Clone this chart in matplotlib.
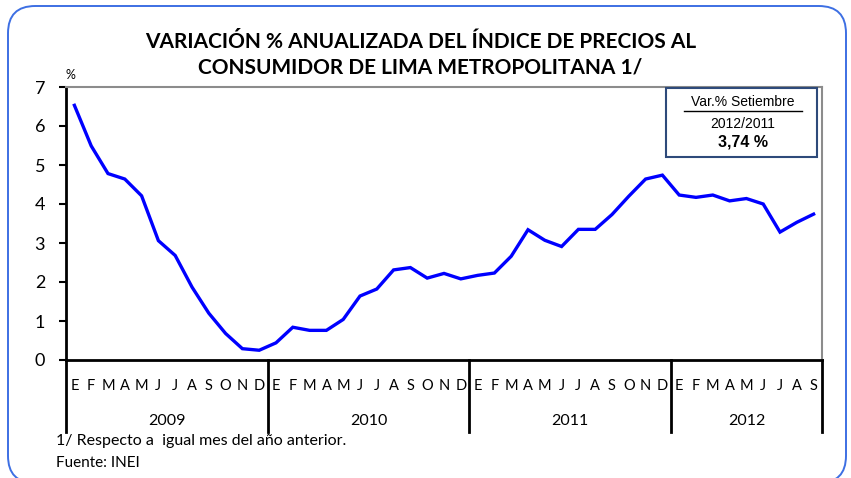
import numpy as np
import matplotlib
matplotlib.use("Agg")
import matplotlib.pyplot as plt
from matplotlib.patches import FancyBboxPatch, Rectangle
from matplotlib.lines import Line2D

# Datos: variacion % anualizada IPC Lima Metropolitana (ene 2009 - set 2012)
anios = ["2009", "2010", "2011", "2012"]
meses = ["E", "F", "M", "A", "M", "J", "J", "A", "S", "O", "N", "D"]
v2009 = [6.53, 5.49, 4.78, 4.64, 4.21, 3.06, 2.68, 1.87, 1.20, 0.68, 0.29, 0.25]
v2010 = [0.44, 0.84, 0.76, 0.76, 1.04, 1.64, 1.82, 2.31, 2.37, 2.10, 2.22, 2.08]
v2011 = [2.17, 2.23, 2.66, 3.34, 3.07, 2.91, 3.35, 3.35, 3.73, 4.20, 4.64, 4.74]
v2012 = [4.23, 4.17, 4.23, 4.08, 4.14, 4.00, 3.28, 3.53, 3.74]
yticks = [0, 1, 2, 3, 4, 5, 6, 7]

valores = v2009 + v2010 + v2011 + v2012
n = len(valores)
etiquetas = (meses * 4)[:n]
x = np.arange(n) + 0.5

fig = plt.figure(figsize=(8.51, 4.78), dpi=100)
plt.rcParams['font.family'] = ['Lato', 'DejaVu Sans']

# marco redondeado azul (el borde inferior queda fuera de la imagen)
marco = FancyBboxPatch((8 / 851, -5 / 478), 838 / 851, 477 / 478,
                       boxstyle="round,pad=0,rounding_size=0.032",
                       transform=fig.transFigure, fill=False,
                       edgecolor="#3d6fe3", linewidth=1.4, mutation_aspect=851 / 478)
fig.patches.append(marco)

ax = fig.add_axes([66 / 851, 1 - 360 / 478, (822 - 66) / 851, (360 - 87) / 478])
ax.plot(x, valores, color="#0000ff", linewidth=2.4, solid_joinstyle="miter")

ax.set_xlim(0, n)
ax.set_ylim(0, 7)
ax.set_yticks(yticks)
ax.tick_params(axis="y", labelsize=13, length=5, width=1.5, direction="out", pad=10)
ax.set_xticks(x)
ax.set_xticklabels(etiquetas, fontsize=10.5)
ax.tick_params(axis="x", length=0, pad=14)

for lado in ["left", "bottom"]:
    ax.spines[lado].set_linewidth(2)
    ax.spines[lado].set_color("black")
for lado in ["top", "right"]:
    ax.spines[lado].set_linewidth(1.5)
    ax.spines[lado].set_color("#8c8c8c")

# separadores de anios y etiquetas de anio
tr = ax.get_xaxis_transform()
for i in range(len(anios) + 1):
    xs = min(i * 12, n)
    ax.plot([xs, xs], [0, -0.265], color="black", linewidth=2, transform=tr, clip_on=False)
for i, a in enumerate(anios):
    fin = min((i + 1) * 12, n)
    ax.text((i * 12 + fin) / 2, -0.225, a, transform=tr, ha="center", va="center", fontsize=11.5)

# titulo
fig.text(0.494, 1 - 42 / 478, "VARIACIÓN % ANUALIZADA DEL ÍNDICE DE PRECIOS AL",
         ha="center", va="center", fontsize=15, fontweight="bold")
fig.text(0.494, 1 - 68 / 478, "CONSUMIDOR DE LIMA METROPOLITANA 1/",
         ha="center", va="center", fontsize=15, fontweight="bold")
fig.text(70 / 851, 1 - 75 / 478, "%", ha="center", va="center", fontsize=9)

# recuadro con el dato
fig.patches.append(Rectangle((666 / 851, 1 - 157 / 478), 151 / 851, 69 / 478,
                             transform=fig.transFigure, fill=True, facecolor="white",
                             edgecolor="#2e4a7a", linewidth=1.5))
fig.text(743 / 851, 1 - 102 / 478, "Var.% Setiembre", ha="center", va="center",
         fontsize=10, family="Liberation Sans")
fig.lines.append(Line2D([684 / 851, 802 / 851], [1 - 111 / 478, 1 - 111 / 478],
                        transform=fig.transFigure, color="black", linewidth=1))
fig.text(743 / 851, 1 - 124 / 478, "2012/2011", ha="center", va="center",
         fontsize=10, family="Liberation Sans")
fig.text(743 / 851, 1 - 142 / 478, "3,74 %", ha="center", va="center",
         fontsize=11.5, fontweight="bold", family="Liberation Sans")

# notas
fig.text(56 / 851, 1 - 441 / 478, "1/ Respecto a  igual mes del año anterior.",
         ha="left", va="center", fontsize=11.5)
fig.text(56 / 851, 1 - 463 / 478, "Fuente: INEI", ha="left", va="center", fontsize=11)

fig.savefig("out.png", dpi=100)
